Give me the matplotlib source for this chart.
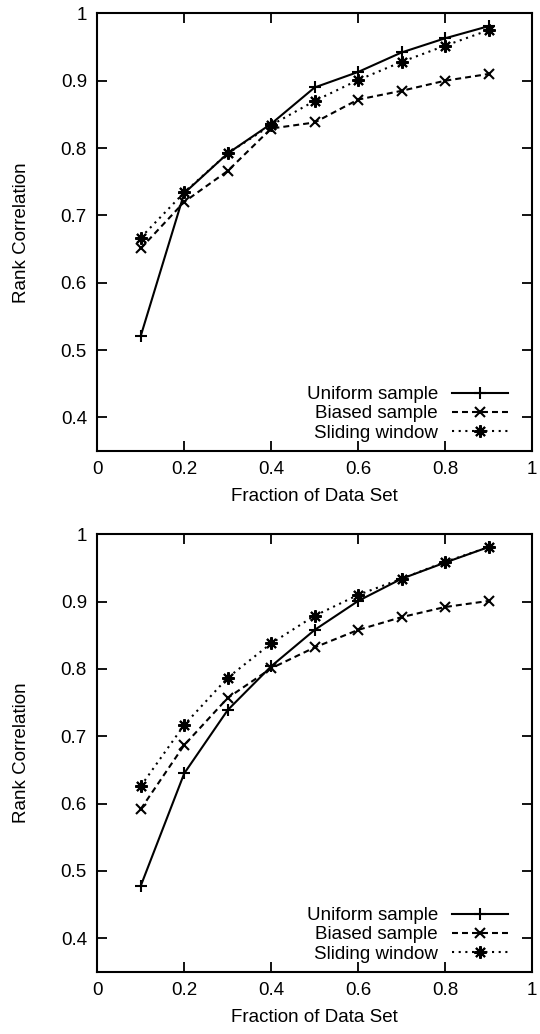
import matplotlib
matplotlib.use("Agg")
import matplotlib.pyplot as plt

plt.rcParams['font.family'] = ['Liberation Sans', 'DejaVu Sans']
plt.rcParams['lines.scale_dashes'] = False

fractions = [0.1, 0.2, 0.3, 0.4, 0.5, 0.6, 0.7, 0.8, 0.9]

top_uniform = [0.521, 0.733, 0.792, 0.836, 0.890, 0.913, 0.942, 0.963, 0.981]
top_biased = [0.651, 0.720, 0.766, 0.829, 0.838, 0.872, 0.885, 0.900, 0.910]
top_sliding = [0.667, 0.734, 0.792, 0.834, 0.870, 0.901, 0.928, 0.952, 0.975]

bot_uniform = [0.478, 0.645, 0.739, 0.804, 0.858, 0.901, 0.934, 0.958, 0.981]
bot_biased = [0.592, 0.687, 0.757, 0.801, 0.832, 0.858, 0.877, 0.892, 0.901]
bot_sliding = [0.626, 0.717, 0.787, 0.838, 0.879, 0.910, 0.934, 0.959, 0.981]

series_labels = ["Uniform sample", "Biased sample", "Sliding window"]
xticks = [0, 0.2, 0.4, 0.6, 0.8, 1]
xticklabels = ["0", "0.2", "0.4", "0.6", "0.8", "1"]
yticks = [0.4, 0.5, 0.6, 0.7, 0.8, 0.9, 1.0]
yticklabels = ["0.4", "0.5", "0.6", "0.7", "0.8", "0.9", "1"]

FS = 13.5
W, H = 540, 1034
fig = plt.figure(figsize=(W / 100, H / 100), dpi=100)

def panel(rect, u, b, s):
    ax = fig.add_axes(rect)
    lw = 1.5
    ax.plot(fractions, u, color='black', lw=lw, ls='-', marker='+',
            ms=8, mew=1.5, label=series_labels[0])
    ax.plot(fractions, b, color='black', lw=lw, ls=(0, (4.3, 2.9)),
            dash_capstyle='butt', marker='x', ms=7.5, mew=1.5,
            label=series_labels[1])
    ax.plot(fractions, s, color='black', lw=lw, ls=(0, (1.5, 3.3)),
            dash_capstyle='butt', marker=(8, 2, 0), ms=9, mew=1.5,
            label=series_labels[2])
    ax.set_xlim(0, 1)
    ax.set_ylim(0.35, 1.0)
    ax.set_xticks(xticks)
    ax.set_xticklabels(xticklabels)
    ax.set_yticks(yticks)
    ax.set_yticklabels(yticklabels)
    ax.tick_params(direction='in', length=7.2, width=1.3, top=True,
                   right=True, labelsize=FS, pad=7.5, colors='black')
    for sp in ax.spines.values():
        sp.set_linewidth(1.5)
    ax.set_xlabel("Fraction of Data Set", fontsize=FS)
    ax.set_ylabel("Rank Correlation", fontsize=FS)
    ax.xaxis.set_label_coords(0.5, -0.085)
    ax.yaxis.set_label_coords(-0.155, 0.5)
    ax.legend(loc='lower right', frameon=False, markerfirst=False,
              numpoints=1, fontsize=FS, handlelength=3.0,
              handletextpad=0.75, labelspacing=0.115,
              borderaxespad=0.0, bbox_to_anchor=(0.963, 0.004))
    return ax

panel([97.3 / W, 1 - 451 / H, 434.7 / W, 437.6 / H], top_uniform, top_biased, top_sliding)
panel([97.3 / W, 1 - 972 / H, 434.7 / W, 437.7 / H], bot_uniform, bot_biased, bot_sliding)

fig.savefig("out.png", dpi=100)
